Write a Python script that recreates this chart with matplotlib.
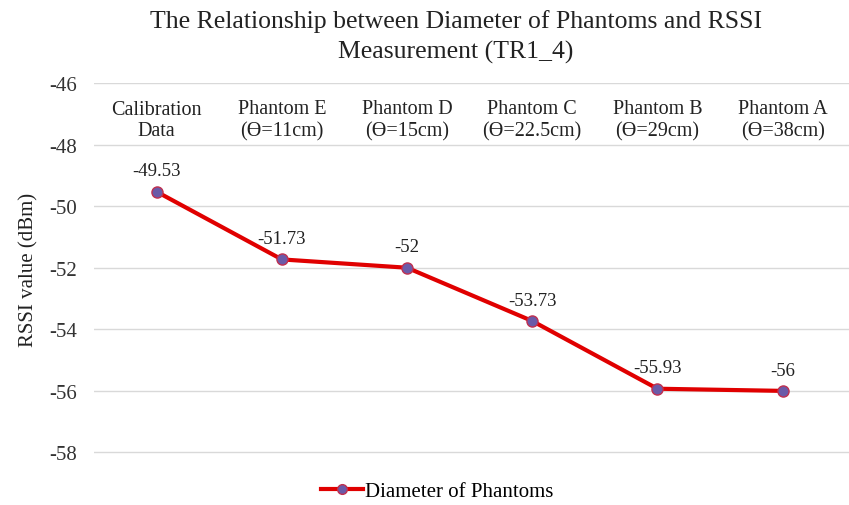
import matplotlib
matplotlib.use("Agg")
import matplotlib.pyplot as plt
from matplotlib.lines import Line2D

categories = ["Calibration\nData", "Phantom E\n(\u03F4=11cm)", "Phantom D\n(\u03F4=15cm)",
              "Phantom C\n(\u03F4=22.5cm)", "Phantom B\n(\u03F4=29cm)", "Phantom A\n(\u03F4=38cm)"]
values = [-49.53, -51.73, -52.0, -53.73, -55.93, -56.0]
value_labels = ["-49.53", "-51.73", "-52", "-53.73", "-55.93", "-56"]
yticks = [-46, -48, -50, -52, -54, -56, -58]
series_name = "Diameter of Phantoms"

plt.rcParams['font.family'] = ['Liberation Serif', 'DejaVu Serif']

W, H = 849, 506
fig = plt.figure(figsize=(W / 100, H / 100), dpi=100)
ax = fig.add_axes([94 / W, 1 - 455 / H, (849 - 94) / W, (455 - 84) / H])

x = list(range(len(categories)))
ax.plot(x, values, color='#E00000', lw=3, marker='o', markersize=8,
        markerfacecolor='#6A5AA8', markeredgecolor='#C03050', markeredgewidth=1, zorder=3)

for xi, v, lab in zip(x, values, value_labels):
    ax.annotate(lab, (xi, v), xytext=(0, 15), textcoords='offset points',
                ha='center', va='center', fontsize=13.5, color='#222222')

for xi, c in zip(x, categories):
    ax.text(xi, -47.2, c, ha='center', va='center', fontsize=14.5, color='#222222',
            linespacing=1.2, family=['Liberation Serif', 'DejaVu Serif'])

ax.set_xlim(-0.5, len(categories) - 0.5 + 0.03)
ax.set_ylim(-58.05, -46)
ax.set_yticks(yticks)
ax.set_yticklabels([str(t) for t in yticks], fontsize=15, color='#333333')
ax.set_xticks([])
ax.tick_params(axis='y', length=0, pad=12)
ax.grid(axis='y', color='#D9D9D9', lw=1)
ax.set_axisbelow(True)
for s in ax.spines.values():
    s.set_visible(False)

ax.set_ylabel("RSSI value (dBm)", fontsize=15, color='#222222', labelpad=8)

fig.text(456 / W, 1 - 37 / H, "The Relationship between Diameter of Phantoms and RSSI\nMeasurement (TR1_4)",
         ha='center', va='center', fontsize=18.5, color='#222222', linespacing=1.4)

handle = Line2D([], [], color='#E00000', lw=3, marker='o', markersize=7,
                markerfacecolor='#6A5AA8', markeredgecolor='#C03050')
fig.legend([handle], [series_name], loc='center', bbox_to_anchor=(437 / W, 1 - 492 / H),
           frameon=False, fontsize=15, handlelength=2.0, handletextpad=0.1)

fig.savefig("out.png", dpi=100)
